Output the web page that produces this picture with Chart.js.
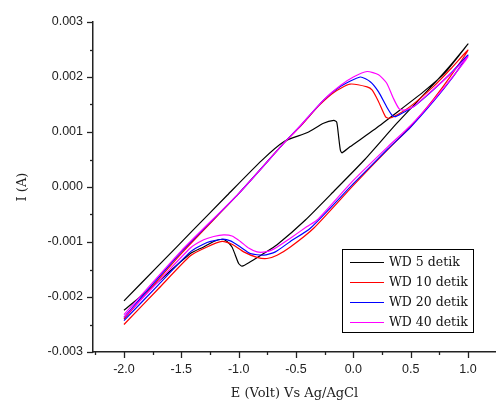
<!DOCTYPE html>
<html>
<head>
<meta charset="utf-8">
<script src="https://cdn.jsdelivr.net/npm/chart.js@4.4.1/dist/chart.umd.min.js"></script>
<style>
  html, body { margin: 0; padding: 0; background: #fff; }
  #wrap { width: 496px; height: 401px; }
</style>
</head>
<body>
<div id="wrap"><canvas id="cvChart" width="496" height="401"></canvas></div>
<script>
// series labels and colours
const seriesLabels = ['WD 5 detik', 'WD 10 detik', 'WD 20 detik', 'WD 40 detik'];
const seriesColors = ['#000000', '#ff0000', '#0000ff', '#ff00ff'];

// WD 5 detik : forward sweep (-2.0 -> 1.0) then reverse sweep (1.0 -> -2.0)
const wd5E = [-2.0, -1.7, -1.4, -1.1, -0.8, -0.6, -0.4, -0.26, -0.17, -0.145, -0.128, -0.113, -0.099, -0.03, 0.18, 0.35, 0.61, 0.8, 1.0,
  0.85, 0.7, 0.38, 0.1, -0.157, -0.418, -0.665, -0.782, -0.898, -0.97, -1.0, -1.029, -1.058, -1.101, -1.145, -1.218, -1.305, -1.421, -1.7, -2.0];
const wd5I = [-0.00207, -0.00143, -0.00079, -0.00015, 0.00048, 0.00083, 0.00099, 0.00116, 0.00121, 0.00118, 0.00091, 0.00067, 0.00062, 0.00073, 0.00104, 0.00131, 0.00173, 0.00208, 0.0026,
  0.00222, 0.00187, 0.00116, 0.0005, -0.00005, -0.0006, -0.00105, -0.00121, -0.00136, -0.00144, -0.00139, -0.00124, -0.00109, -0.00099, -0.00095, -0.00099, -0.00109, -0.00121, -0.00172, -0.00224];

// WD 10 detik
const wd10E = [-2.0, -1.5, -1.0, -0.6, -0.45, -0.3, -0.17, -0.03, 0.12, 0.165, 0.22, 0.28, 0.31, 0.38, 0.5, 0.7, 0.85, 1.0,
  0.85, 0.7, 0.5, 0.3, 0.0, -0.346, -0.549, -0.665, -0.753, -0.84, -0.956, -1.058, -1.145, -1.276, -1.421, -1.7, -2.0];
const wd10I = [-0.0024, -0.00121, -0.00012, 0.00081, 0.00113, 0.00148, 0.00172, 0.00187, 0.00182, 0.00176, 0.00155, 0.00128, 0.00125, 0.00131, 0.00147, 0.00183, 0.00215, 0.00249,
  0.00202, 0.0016, 0.0011, 0.00068, 0.00003, -0.00075, -0.00109, -0.00124, -0.0013, -0.00128, -0.00118, -0.00104, -0.00099, -0.00109, -0.00125, -0.00185, -0.0025];

// WD 20 detik
const wd20E = [-2.0, -1.5, -1.0, -0.6, -0.45, -0.26, -0.11, 0.06, 0.15, 0.22, 0.29, 0.34, 0.37, 0.45, 0.55, 0.7, 0.85, 1.0,
  0.85, 0.7, 0.5, 0.3, 0.0, -0.375, -0.549, -0.68, -0.782, -0.898, -0.985, -1.072, -1.145, -1.276, -1.421, -1.7, -2.0];
const wd20I = [-0.00237, -0.00118, -0.00012, 0.00081, 0.00114, 0.00158, 0.00183, 0.002, 0.00191, 0.00173, 0.00146, 0.0013, 0.00128, 0.00137, 0.0015, 0.00177, 0.00207, 0.0024,
  0.00195, 0.00156, 0.00109, 0.00069, 0.00006, -0.00075, -0.00099, -0.00118, -0.00124, -0.00121, -0.00109, -0.00098, -0.00095, -0.00101, -0.00118, -0.00178, -0.00243];

// WD 40 detik
const wd40E = [-2.0, -1.5, -1.0, -0.6, -0.49, -0.26, -0.11, 0.0, 0.12, 0.22, 0.29, 0.35, 0.4, 0.45, 0.53, 0.7, 0.85, 1.0,
  0.85, 0.7, 0.5, 0.3, 0.0, -0.316, -0.404, -0.549, -0.695, -0.767, -0.84, -0.913, -0.985, -1.058, -1.131, -1.218, -1.305, -1.421, -1.7, -2.0];
const wd40I = [-0.00232, -0.00116, -0.00012, 0.00081, 0.00105, 0.00158, 0.00185, 0.002, 0.0021, 0.00204, 0.00189, 0.00161, 0.00142, 0.0014, 0.00147, 0.00178, 0.00206, 0.00237,
  0.00196, 0.00158, 0.00112, 0.00073, 0.00012, -0.0006, -0.00072, -0.00093, -0.00113, -0.00118, -0.00118, -0.00111, -0.00099, -0.00089, -0.00087, -0.0009, -0.00096, -0.00111, -0.00172, -0.00237];

// axis ticks
const xTicks = [-2.0, -1.5, -1.0, -0.5, 0.0, 0.5, 1.0];
const yTicks = [-0.003, -0.002, -0.001, 0, 0.001, 0.002, 0.003];

const seriesE = [wd5E, wd10E, wd20E, wd40E];
const seriesI = [wd5I, wd10I, wd20I, wd40I];

const toPoints = (es, is) => es.map((e, i) => ({ x: e, y: is[i] }));

const axisColor = '#222';
const tickFont = { family: 'Liberation Sans', size: 12.5 };
const titleFont = { family: 'DejaVu Serif', size: 13 };

// major + minor tick marks drawn outward from the axis lines
const tickMarks = {
  id: 'tickMarks',
  afterDraw(chart) {
    const { ctx, chartArea, scales } = chart;
    ctx.save();
    ctx.strokeStyle = axisColor;
    ctx.lineWidth = 1.3;
    const xs = scales.x, ys = scales.y;
    const xStep = xTicks[1] - xTicks[0];
    for (let v = xTicks[0] - xStep / 2; v <= xs.max + 1e-9; v += xStep / 2) {
      if (v < xs.min) continue;
      const major = xTicks.some((t) => Math.abs(t - v) < 1e-9);
      const px = Math.round(xs.getPixelForValue(v)) + 0.5;
      ctx.beginPath();
      ctx.moveTo(px, chartArea.bottom);
      ctx.lineTo(px, chartArea.bottom + (major ? 6 : 3));
      ctx.stroke();
    }
    const yStep = yTicks[1] - yTicks[0];
    for (let v = yTicks[0]; v <= yTicks[yTicks.length - 1] + 1e-9; v += yStep / 2) {
      const major = yTicks.some((t) => Math.abs(t - v) < 1e-9);
      const py = Math.round(ys.getPixelForValue(v)) + 0.5;
      ctx.beginPath();
      ctx.moveTo(chartArea.left, py);
      ctx.lineTo(chartArea.left - (major ? 6 : 3), py);
      ctx.stroke();
    }
    ctx.restore();
  },
};

// boxed legend inside the plot, lower right
const boxLegend = {
  id: 'boxLegend',
  afterDraw(chart) {
    const { ctx } = chart;
    const box = { x: 342.5, y: 249.5, w: 131, h: 83 };
    ctx.save();
    ctx.fillStyle = '#fff';
    ctx.fillRect(box.x, box.y, box.w, box.h);
    ctx.strokeStyle = '#000';
    ctx.lineWidth = 1;
    ctx.strokeRect(box.x, box.y, box.w, box.h);
    ctx.font = '12.5px "DejaVu Serif"';
    ctx.textBaseline = 'middle';
    chart.data.datasets.forEach((ds, i) => {
      const y = 262.5 + i * 20;
      ctx.strokeStyle = ds.borderColor;
      ctx.lineWidth = 1.2;
      ctx.beginPath();
      ctx.moveTo(350, y);
      ctx.lineTo(384, y);
      ctx.stroke();
      ctx.fillStyle = '#111';
      ctx.fillText(ds.label, 389, y + 0.5);
    });
    ctx.restore();
  },
};

const ctx = document.getElementById('cvChart');

const cvChart = new Chart(ctx, {
  type: 'scatter',
  data: {
    datasets: seriesLabels.map((label, i) => ({
      label: label,
      data: toPoints(seriesE[i], seriesI[i]),
      showLine: true,
      borderColor: seriesColors[i],
      backgroundColor: seriesColors[i],
      borderWidth: 1.2,
      pointRadius: 0,
      tension: 0.2,
      order: 3 - i,
    })),
  },
  options: {
    responsive: false,
    animation: false,
    layout: { padding: { top: 22, right: 0, bottom: 0, left: 0 } },
    plugins: {
      legend: { display: false },
      tooltip: { enabled: false },
    },
    scales: {
      x: {
        type: 'linear',
        min: -2.27,
        max: 1.244,
        afterBuildTicks: (scale) => {
          scale.ticks = xTicks.map((v) => ({ value: v }));
        },
        afterFit: (scale) => {
          scale.height = 49;
        },
        ticks: {
          autoSkip: false,
          maxRotation: 0,
          padding: 10,
          color: axisColor,
          font: tickFont,
          callback: (value) => Number(value).toFixed(1),
        },
        grid: { display: false, drawTicks: false },
        border: { display: true, color: axisColor, width: 1.5 },
        title: {
          display: true,
          text: 'E (Volt) Vs Ag/AgCl',
          color: axisColor,
          font: titleFont,
          padding: { top: 0, bottom: 0 },
        },
      },
      y: {
        type: 'linear',
        min: -0.003,
        max: 0.003,
        afterBuildTicks: (scale) => {
          scale.ticks = yTicks.map((v) => ({ value: v }));
        },
        afterFit: (scale) => {
          scale.width = 93;
        },
        ticks: {
          autoSkip: false,
          padding: 10,
          color: axisColor,
          font: tickFont,
          callback: (value) => Number(value).toFixed(3),
        },
        grid: { display: false, drawTicks: false },
        border: { display: true, color: axisColor, width: 1.5 },
        title: {
          display: true,
          text: 'I (A)',
          color: axisColor,
          font: titleFont,
          padding: { top: 15, bottom: 0 },
        },
      },
    },
  },
  plugins: [tickMarks, boxLegend],
});
</script>
</body>
</html>
